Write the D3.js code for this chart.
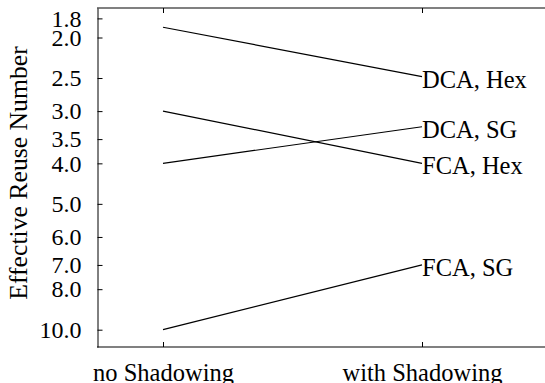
<!DOCTYPE html>
<html>
<head>
<meta charset="utf-8">
<script src="https://cdn.jsdelivr.net/npm/d3@7"></script>
<style>
  body { margin: 0; background: #fff; }
  text { font-family: "Liberation Serif", "Times New Roman", serif; fill: #000; }
</style>
</head>
<body>
<svg id="chart"></svg>
<script>
const conditions = ["no Shadowing", "with Shadowing"];
const seriesNames = ["DCA, Hex", "DCA, SG", "FCA, Hex", "FCA, SG"];
const dcaHex = [1.89, 2.48];
const dcaSg = [4.0, 3.27];
const fcaHex = [3.0, 4.0];
const fcaSg = [10.0, 7.0];
const yTicks = [1.8, 2.0, 2.5, 3.0, 3.5, 4.0, 5.0, 6.0, 7.0, 8.0, 10.0];

const width = 545,
  height = 383,
  plotLeft = 97,
  plotTop = 8,
  plotBottom = 347;

const series = [dcaHex, dcaSg, fcaHex, fcaSg].map((v, i) => ({
  name: seriesNames[i],
  values: v
}));

const svg = d3.select("#chart").attr("width", width).attr("height", height);

const x = d3.scalePoint().domain(conditions).range([163, 422]);
const y = d3.scaleLog().domain([1.7, 11]).range([plotTop, plotBottom]);

// frame
svg.append("line")
  .attr("x1", plotLeft).attr("x2", width).attr("y1", plotTop).attr("y2", plotTop)
  .attr("stroke", "#808080").attr("stroke-width", 2);
svg.append("line")
  .attr("x1", plotLeft).attr("x2", width).attr("y1", plotBottom).attr("y2", plotBottom)
  .attr("stroke", "#808080").attr("stroke-width", 2);

// y axis
const yAxis = d3.axisLeft(y)
  .tickValues(yTicks)
  .tickFormat(d3.format(".1f"))
  .tickSizeInner(-5)
  .tickSizeOuter(0)
  .tickPadding(16);
const gy = svg.append("g")
  .attr("transform", "translate(" + (plotLeft + 0.5) + ",0)")
  .call(yAxis);
gy.select(".domain").attr("stroke", "#000");
gy.selectAll("text").attr("font-size", 24).style("font-family", "Liberation Serif");

// x ticks top and bottom
const xBottom = d3.axisBottom(x).tickSizeInner(-5).tickSizeOuter(0).tickPadding(20);
const gx = svg.append("g")
  .attr("transform", "translate(0," + plotBottom + ")")
  .call(xBottom);
gx.select(".domain").remove();
gx.selectAll("text").attr("font-size", 24.5).style("font-family", "Liberation Serif")
  .attr("y", 34).attr("dy", 0);

const xTop = d3.axisTop(x).tickSizeInner(-5).tickSizeOuter(0).tickFormat("");
const gxt = svg.append("g")
  .attr("transform", "translate(0," + plotTop + ")")
  .call(xTop);
gxt.select(".domain").remove();

// y label
svg.append("text")
  .attr("transform", "translate(27,173) rotate(-90)")
  .attr("text-anchor", "middle")
  .attr("font-size", 25.7)
  .text("Effective Reuse Number");

// lines
const line = d3.line()
  .x((d, i) => x(conditions[i]))
  .y(d => y(d));

svg.selectAll(".series")
  .data(series)
  .enter()
  .append("path")
  .attr("class", "series")
  .attr("d", d => line(d.values))
  .attr("fill", "none")
  .attr("stroke", "#000")
  .attr("stroke-width", 1.2);

svg.selectAll(".label")
  .data(series)
  .enter()
  .append("text")
  .attr("class", "label")
  .attr("x", x(conditions[1]))
  .attr("y", d => y(d.values[1]) + 11)
  .attr("font-size", 24.5)
  .text(d => d.name);
</script>
</body>
</html>
